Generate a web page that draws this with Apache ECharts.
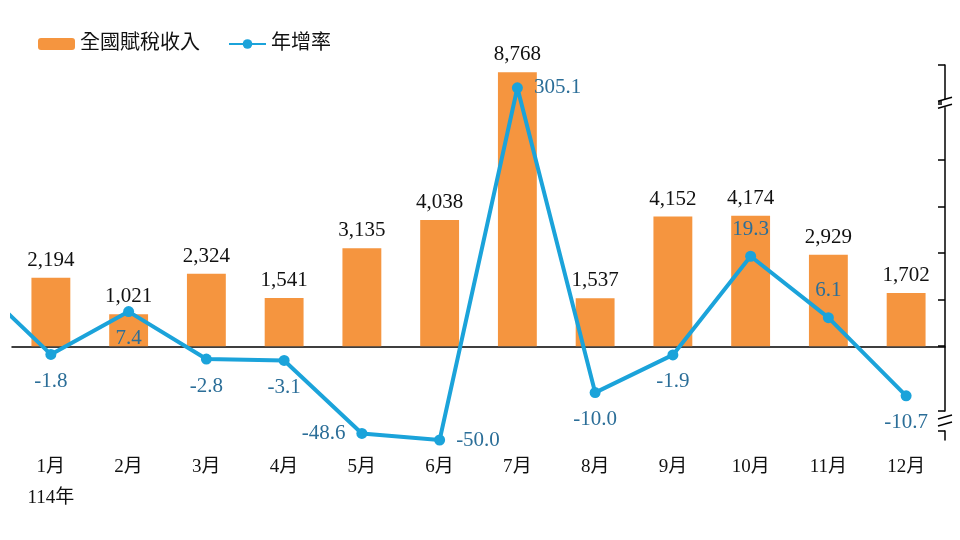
<!DOCTYPE html>
<html>
<head>
<meta charset="utf-8">
<script src="https://cdn.jsdelivr.net/npm/echarts@6/dist/echarts.min.js"></script>
<style>
  html, body { margin: 0; padding: 0; background: #fff; }
  #main { width: 960px; height: 540px; }
</style>
</head>
<body>
<div id="main"></div>
<script>
// 114年 全國賦稅收入(億元) 與 年增率(%)
const months = ['1月', '2月', '3月', '4月', '5月', '6月', '7月', '8月', '9月', '10月', '11月', '12月'];
const revenue = [2194, 1021, 2324, 1541, 3135, 4038, 8768, 1537, 4152, 4174, 2929, 1702];
const growth = [-1.8, 7.4, -2.8, -3.1, -48.6, -50.0, 305.1, -10.0, -1.9, 19.3, 6.1, -10.7];
// 113年12月 rate, only seen as the line coming in from the left edge
const prevGrowth = 14.2;
const yearLabel = '114年';

const serif = '"Liberation Serif", "Noto Sans CJK TC", serif';
const cjk = '"Liberation Serif", "Noto Sans CJK TC", sans-serif';
const barColor = '#F5953F';
const lineColor = '#1BA3DA';
const rateLabelColor = '#2B6E98';

// where each rate label sits around its point
const ratePos = ['bottom', 'bottom', 'bottom', 'bottom', 'left', 'right', 'right', 'bottom', 'bottom', 'top', 'top', 'bottom'];

const chart = echarts.init(document.getElementById('main'));

const lineData = [{ value: [0, prevGrowth], symbol: 'none', label: { show: false } }];
growth.forEach((v, i) => {
  lineData.push({ value: [i + 1, v], label: { position: ratePos[i] } });
});

const option = {
  animation: false,
  legend: {
    left: 33,
    top: 29,
    itemWidth: 37,
    itemHeight: 12,
    itemGap: 28,
    textStyle: { fontSize: 20, color: '#111', fontFamily: cjk },
    data: ['全國賦稅收入', '年增率']
  },
  grid: { left: 12, right: 15, top: 65, bottom: 100, containLabel: false },
  xAxis: [
    {
      type: 'category',
      data: months,
      position: 'bottom',
      axisLine: { show: false, onZero: false },
      axisTick: { show: false },
      axisLabel: {
        margin: 12,
        fontSize: 19,
        lineHeight: 31,
        color: '#111',
        fontFamily: cjk,
        formatter: (v, i) => (i === 0 ? v + '\n' + yearLabel : v)
      }
    },
    {
      // hidden value axis for the line; its axis line is the zero line
      type: 'value',
      min: 0.5,
      max: 12.5,
      axisLine: { show: true, onZero: true, onZeroAxisIndex: 0, lineStyle: { color: '#000', width: 1.5 } },
      axisTick: { show: false },
      axisLabel: { show: false },
      splitLine: { show: false }
    }
  ],
  yAxis: [
    {
      type: 'value',
      min: -3000,
      max: 9000,
      show: false
    },
    {
      type: 'value',
      position: 'right',
      min: -50,
      max: 310,
      interval: 10,
      breaks: [
        { start: -14, end: -48, gap: '5.2%' },
        { start: 52, end: 302, gap: '0.5%' }
      ],
      breakArea: { show: false },
      axisLine: { show: true, lineStyle: { color: '#000', width: 1.5 } },
      axisTick: { show: true, inside: true, length: 7, lineStyle: { color: '#000', width: 1.5 } },
      axisLabel: { show: false },
      splitLine: { show: false }
    }
  ],
  series: [
    {
      name: '全國賦稅收入',
      type: 'bar',
      xAxisIndex: 0,
      yAxisIndex: 0,
      barWidth: '50%',
      itemStyle: { color: barColor },
      label: {
        show: true,
        position: 'top',
        distance: 7,
        fontSize: 21,
        color: '#111',
        fontFamily: serif,
        formatter: p => p.value.toLocaleString('en-US')
      },
      data: revenue,
      z: 2
    },
    {
      name: '年增率',
      type: 'line',
      xAxisIndex: 1,
      yAxisIndex: 1,
      clip: false,
      symbol: 'circle',
      symbolSize: 11,
      lineStyle: { color: lineColor, width: 4 },
      itemStyle: { color: lineColor },
      label: {
        show: true,
        distance: 11,
        fontSize: 21,
        color: rateLabelColor,
        fontFamily: serif,
        formatter: p => p.value[1].toFixed(1)
      },
      data: lineData,
      z: 3
    }
  ]
};

chart.setOption(option);

// break marks on the right axis, placed at the axis breaks
const axisX = 945;
function breakMark(y) {
  return {
    type: 'group',
    children: [
      { type: 'rect', shape: { x: axisX - 3, y: y - 4, width: 6, height: 8 }, style: { fill: '#fff' }, z: 10 },
      { type: 'line', shape: { x1: axisX - 7, y1: y - 2, x2: axisX + 7, y2: y - 6 }, style: { stroke: '#000', lineWidth: 1.5 }, z: 11 },
      { type: 'line', shape: { x1: axisX - 7, y1: y + 5, x2: axisX + 7, y2: y + 1 }, style: { stroke: '#000', lineWidth: 1.5 }, z: 11 }
    ]
  };
}
const brks = option.yAxis[1].breaks;
const marks = brks.map(b => {
  const y1 = chart.convertToPixel({ yAxisIndex: 1 }, b.start);
  const y2 = chart.convertToPixel({ yAxisIndex: 1 }, b.end);
  return breakMark((y1 + y2) / 2);
});
chart.setOption({ graphic: marks });
</script>
</body>
</html>
